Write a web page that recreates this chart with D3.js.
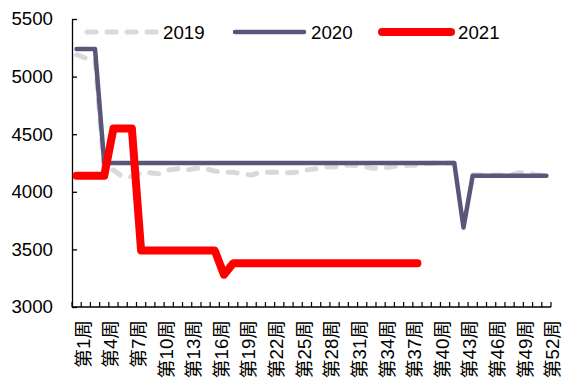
<!DOCTYPE html>
<html><head><meta charset="utf-8">
<script src="https://cdn.jsdelivr.net/npm/d3@7/dist/d3.min.js"></script>
<style>
html,body{margin:0;padding:0;background:#fff;}
text{font-family:"Liberation Sans","Noto Sans CJK SC",Arial,sans-serif;}
</style></head>
<body><svg id="c" width="564" height="382"></svg>
<script>
const weeks = ["第1周","第2周","第3周","第4周","第5周","第6周","第7周","第8周","第9周","第10周","第11周","第12周","第13周","第14周","第15周","第16周","第17周","第18周","第19周","第20周","第21周","第22周","第23周","第24周","第25周","第26周","第27周","第28周","第29周","第30周","第31周","第32周","第33周","第34周","第35周","第36周","第37周","第38周","第39周","第40周","第41周","第42周","第43周","第44周","第45周","第46周","第47周","第48周","第49周","第50周","第51周","第52周"];
const s2019 = [5190,5160,5150,4180,4190,4130,4130,4165,4165,4155,4190,4200,4190,4205,4200,4180,4170,4170,4155,4145,4170,4170,4170,4165,4170,4190,4200,4215,4215,4230,4230,4225,4205,4205,4215,4225,4230,4230,4245,4250,4250,4250,null,4145,4145,4145,4145,4145,4165,4165,4145,4145];
const s2020 = [5240,5240,5240,4250,4250,4250,4250,4250,4250,4250,4250,4250,4250,4250,4250,4250,4250,4250,4250,4250,4250,4250,4250,4250,4250,4250,4250,4250,4250,4250,4250,4250,4250,4250,4250,4250,4250,4250,4250,4250,4250,4250,3690,4140,4140,4140,4140,4140,4140,4140,4140,4140];
const s2021 = [4140,4140,4140,4140,4550,4550,4550,3490,3490,3490,3490,3490,3490,3490,3490,3490,3280,3380,3380,3380,3380,3380,3380,3380,3380,3380,3380,3380,3380,3380,3380,3380,3380,3380,3380,3380,3380,3380,null,null,null,null,null,null,null,null,null,null,null,null,null,null];
const yTicks = [3000,3500,4000,4500,5000,5500];
const seriesNames = ["2019","2020","2021"];

const svg = d3.select("#c");
const x = d3.scaleBand().domain(weeks).range([72,551]);
const y = d3.scaleLinear().domain([3000,5500]).range([307,19]);
const FS = "18.7px";

// Y axis
const ya = svg.append("g").attr("transform","translate(72,0)")
  .call(d3.axisLeft(y).tickValues(yTicks).tickSizeInner(-5).tickSizeOuter(0).tickPadding(19).tickFormat(d3.format("d")));
ya.select(".domain").attr("stroke","#000").attr("stroke-width",1.3);
ya.selectAll(".tick line").attr("stroke","#000").attr("stroke-width",1.3);
ya.selectAll(".tick text").attr("font-size",FS).attr("fill","#000").attr("font-family",null);

// X axis line
const xa = svg.append("g").attr("transform","translate(0,307)");
xa.append("line").attr("x1",x.range()[0]).attr("x2",x.range()[1]).attr("y1",0).attr("y2",0).attr("stroke","#000").attr("stroke-width",1.3);
const bounds = weeks.map(w=>x(w)).concat([x.range()[1]]);
xa.selectAll(".xt").data(bounds).enter().append("line")
  .attr("x1",d=>d).attr("x2",d=>d).attr("y1",0).attr("y2",-5).attr("stroke","#000").attr("stroke-width",1.2);
const labWeeks = weeks.filter((w,i)=>i%3===0);
svg.selectAll(".xl").data(labWeeks).enter().append("text")
  .attr("transform",d=>`translate(${x(d)+x.bandwidth()/2+6.5},320) rotate(-90)`)
  .attr("text-anchor","end").attr("dominant-baseline","central")
  .attr("font-size",FS).attr("fill","#000").text(d=>d);

const line = d3.line().defined(d=>d.v!=null).x(d=>x(d.w)+x.bandwidth()/2).y(d=>y(d.v));
const mk = arr => weeks.map((w,i)=>({w,v:arr[i]}));

const styles = [
  {data:s2019,color:"#d9d9d9",width:5,dash:"9,11"},
  {data:s2020,color:"#595779",width:4.5,dash:null},
  {data:s2021,color:"#ff0000",width:8,dash:null}
];
styles.forEach(s=>{
  svg.append("path").datum(mk(s.data)).attr("d",line)
    .attr("fill","none").attr("stroke",s.color).attr("stroke-width",s.width)
    .attr("stroke-linejoin","round").attr("stroke-linecap","round")
    .attr("stroke-dasharray",s.dash);
});

// Legend
const legX = [87,235,382];
seriesNames.forEach((n,i)=>{
  const s = styles[i];
  const g = svg.append("g").attr("transform",`translate(${legX[i]},32)`);
  g.append("line").attr("x1",0).attr("x2",69).attr("y1",0).attr("y2",0)
    .attr("stroke",s.color).attr("stroke-width",s.width).attr("stroke-linecap","round")
    .attr("stroke-dasharray",s.dash);
  g.append("text").attr("x",76).attr("y",0).attr("dominant-baseline","central")
    .attr("font-size",FS).attr("fill","#000").text(n);
});
</script></body></html>
